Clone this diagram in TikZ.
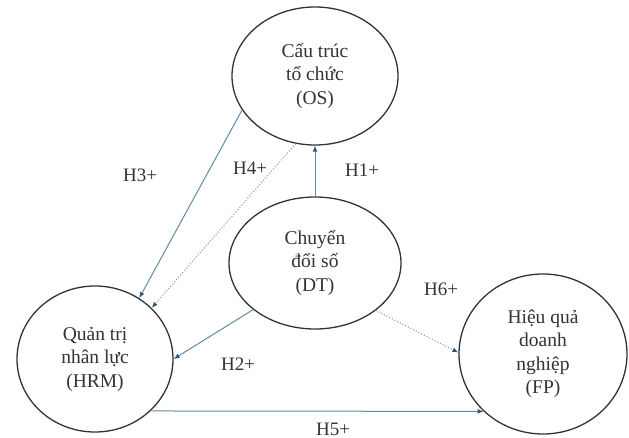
\documentclass[tikz,border=0pt]{standalone}
\usepackage{fontspec}
\setmainfont{Liberation Serif}
\usetikzlibrary{arrows.meta,positioning,shapes.geometric}
\definecolor{Ink}{HTML}{333333}
\definecolor{Rim}{HTML}{333333}
\definecolor{Link}{HTML}{5F8CA6}
\definecolor{Tip}{HTML}{2C5A78}
\definecolor{Dots}{HTML}{8AA2B3}
\tikzset{
  >={Latex[length=6pt,width=5pt,color=Tip]},
  construct/.style={ellipse,draw=Rim,line width=1.3pt,fill=white,inner sep=0pt,align=center,
    text=Ink,font=\fontsize{19.5}{23.5}\selectfont},
  path/.style={->,line width=1pt,draw=Link},
  weakpath/.style={path,draw=Dots,dotted,line width=1.2pt},
  hyp/.style={font=\fontsize{19}{23}\selectfont,text=Ink,inner sep=0pt}
}
\begin{document}
\begin{tikzpicture}[x=1pt,y=-1pt]
    \useasboundingbox (0,0) rectangle (629,438);
    \node[construct,minimum width=166pt,minimum height=138pt] (OS) at (315,76) {Cấu trúc\\tổ chức\\(OS)};
    \node[construct,minimum width=172pt,minimum height=132pt] (DT) at (315,263) {Chuyển\\đổi số\\(DT)};
    \node[construct,minimum width=156pt,minimum height=146pt] (HRM) at (95,359) {Quản trị\\nhân lực\\(HRM)};
    \node[construct,minimum width=168pt,minimum height=160pt] (FP) at (543,354) {Hiệu quả\\doanh\\nghiệp\\(FP)};
    \draw[path] (DT.north)--(OS.south);
    \draw[path] (OS.205)--(HRM.54);
    \draw[weakpath] (OS.254)--(HRM.42);
    \draw[path] (DT.217)--(HRM.0);
    \draw[path] (HRM.-43)--(FP.224);
    \draw[weakpath] (DT.-38)--(FP.179);
    \node[hyp] (h1) at (362,170) {H1+};
    \node[hyp] (h2) at (238,364) {H2+};
    \node[hyp] (h3) at (140,175) {H3+};
    \node[hyp] (h4) at (250,168) {H4+};
    \node[hyp,anchor=base] (h5) at (333,435) {H5+};
    \node[hyp] (h6) at (441,289) {H6+};
  \end{tikzpicture}
\end{document}
